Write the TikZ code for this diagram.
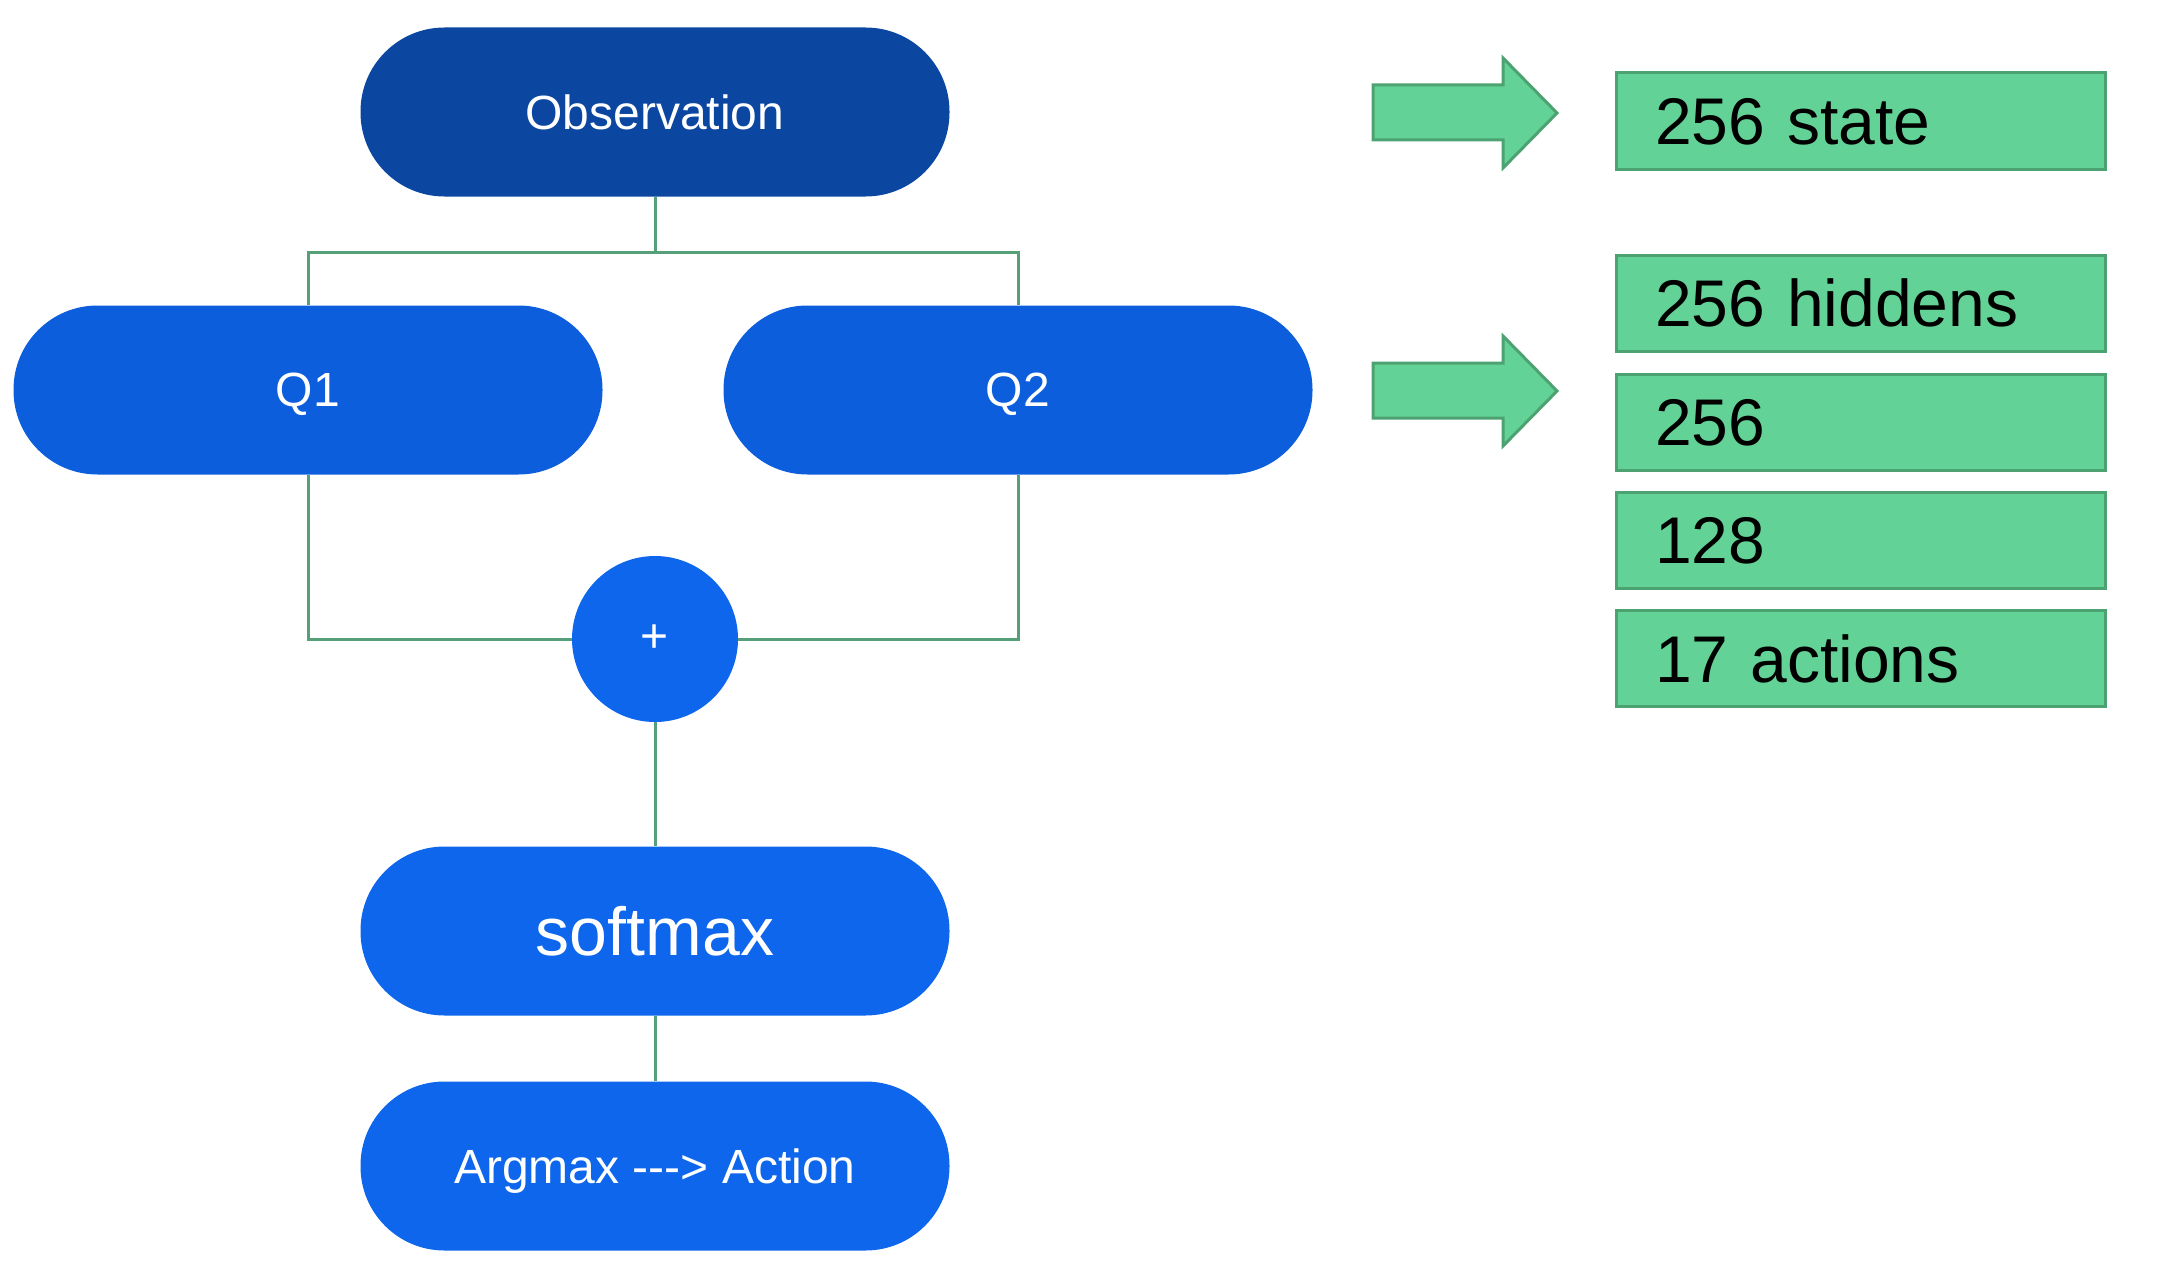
\documentclass[tikz,border=0pt]{standalone}
\usepackage{fontspec}
\setmainfont{Liberation Sans}
\definecolor{obsblue}{HTML}{0B46A0}
\definecolor{qblue}{HTML}{0D5EDC}
\definecolor{mblue}{HTML}{0D66EC}
\definecolor{gfill}{HTML}{63D297}
\definecolor{gborder}{HTML}{4CA270}
\definecolor{gline}{HTML}{55A078}
\tikzset{
  pill/.style={rectangle, rounded corners=42pt, minimum width=294.5pt, minimum height=84.5pt, inner sep=0pt, text depth=0pt, text=white, font=\fontsize{24}{28}\selectfont},
  conn/.style={draw=gline, line width=1.5pt},
  greenbox/.style={rectangle, draw=gborder, fill=gfill, line width=1.5pt, minimum height=48pt, inner xsep=19.5pt, inner ysep=0pt, text depth=0pt, text width=205.5pt, align=left, font=\fontsize{33}{38}\selectfont},
  garrow/.style={draw=gborder, fill=gfill, line width=1.5pt, line join=miter}
}
\begin{document}
\begin{tikzpicture}[x=0.5pt, y=-0.5pt]
\useasboundingbox (0,0) rectangle (2157,1284);
\node[pill, fill=obsblue] (obs) at (655,112) {Observation};
\node[pill, fill=qblue] (q1) at (308,390) {Q1};
\node[pill, fill=qblue] (q2) at (1018,390) {Q2};
\node[circle, fill=mblue, minimum size=83pt, inner sep=0pt, text=white, font=\fontsize{24}{28}\selectfont] (plus) at (655,639) {+};
\node[pill, fill=mblue, font=\fontsize{34}{40}\selectfont] (soft) at (655,931) {softmax};
\node[pill, fill=mblue] (arg) at (655,1166) {Argmax -{}-{}-> Action};
\coordinate (j) at (655,252);
\draw[conn] (obs.south) -- (j);
\draw[conn] (q1.north) |- (j) -| (q2.north);
\draw[conn] (q1.south) |- (plus.west);
\draw[conn] (q2.south) |- (plus.east);
\draw[conn] (plus.south) -- (soft.north);
\draw[conn] (soft.south) -- (arg.north);
% green arrows
\draw[garrow] (1373,85) -- (1503,85) -- (1503,58) -- (1557,113) -- (1503,168) -- (1503,140) -- (1373,140) -- cycle;
\draw[garrow] (1373,363) -- (1503,363) -- (1503,336) -- (1557,391) -- (1503,446) -- (1503,418) -- (1373,418) -- cycle;
% green boxes
\node[greenbox] (b1) at (1860.5,121) {256 state};
\node[greenbox] (b2) at (1860.5,303) {256 hiddens};
\node[greenbox] (b3) at (1860.5,422) {256};
\node[greenbox] (b4) at (1860.5,540) {128};
\node[greenbox] (b5) at (1860.5,658.5) {17 actions};
\end{tikzpicture}
\end{document}
